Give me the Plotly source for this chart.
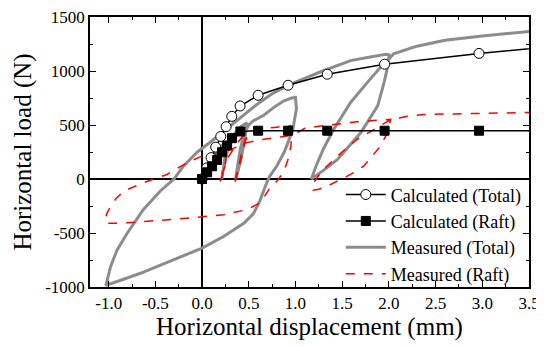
import plotly.graph_objects as go

# ---------------- data ----------------
calc_total_x = [0.0, 0.05, 0.096, 0.146, 0.2, 0.257, 0.318, 0.407, 0.6, 0.921, 1.34, 1.954, 2.965, 4.0]
calc_total_y = [0, 102, 198, 295, 394, 484, 580, 676, 775, 868, 970, 1063, 1163, 1245]

calc_raft_x = [0.0, 0.054, 0.107, 0.161, 0.214, 0.268, 0.321, 0.41, 0.6, 0.921, 1.34, 1.954, 2.965, 4.0]
calc_raft_y = [0, 62, 118, 177, 248, 310, 378, 440, 447, 447, 447, 447, 447, 447]

meas_total_x = [0.0, 0.05, 0.1, 0.15, 0.2, 0.26, 0.25, 0.23, 0.21,
                0.22, 0.27, 0.35, 0.42, 0.48, 0.46, 0.42, 0.38, 0.36,
                0.38, 0.41, 0.45, 0.5, 0.55, 0.66, 0.78, 0.875, 0.96, 1.0,
                1.01, 0.97, 0.88, 0.8, 0.72, 0.68, 0.62, 0.55, 0.45, 0.23, 0.0, -0.3, -0.66, -0.84, -0.95, -1.03,
                -0.98, -0.91, -0.8, -0.63, -0.45, -0.3, -0.2, -0.05, 0.1, 0.23, 0.41, 0.59, 0.75, 0.95, 1.27, 1.59, 1.8, 1.97, 2.0,
                1.99, 1.95, 1.88, 1.7, 1.45, 1.3, 1.17,
                1.22, 1.3, 1.41, 1.59, 1.77, 1.91, 2.0, 2.05, 2.3, 2.6, 3.0, 3.3, 3.5, 3.6]
meas_total_y = [0, 90, 170, 240, 300, 340, 230, 110, 0,
                60, 250, 420, 490, 520, 380, 200, 60, 0,
                120, 280, 420, 500, 540, 590, 670, 724, 750, 755,
                650, 450, 250, 120, 20, -60, -200, -320, -408, -532, -640, -749, -873, -928, -960, -985,
                -811, -656, -500, -284, -113, 0, 119, 250, 350, 440, 569, 693, 790, 879, 993, 1096, 1130, 1155, 1150,
                1050, 900, 677, 430, 181, 80, 0,
                120, 280, 460, 709, 895, 1034, 1110, 1160, 1230, 1285, 1325, 1350, 1365, 1375]

meas_raft_x = [0.0, 0.08, 0.15, 0.22, 0.26, 0.25, 0.22, 0.19,
               0.22, 0.28, 0.35, 0.42, 0.47, 0.45, 0.41, 0.37, 0.34,
               0.37, 0.41, 0.45, 0.5, 0.6, 0.8, 0.95,
               0.96, 0.95, 0.92, 0.87, 0.8, 0.72, 0.66, 0.6, 0.48, 0.23, -0.125, -0.48, -0.84, -1.0, -1.04,
               -1.02, -0.98, -0.92, -0.84, -0.63, -0.375, -0.3, -0.16, 0.0, 0.23, 0.48, 0.66, 0.91, 1.0, 1.1, 1.27, 1.66, 1.9, 2.02,
               1.98, 1.91, 1.8, 1.73, 1.59, 1.375, 1.25, 1.19, 1.17,
               1.23, 1.3, 1.41, 1.55, 1.66, 1.8, 1.91, 2.02, 2.2, 2.375, 2.7, 3.09, 3.5, 3.6]
meas_raft_y = [0, 70, 140, 200, 230, 150, 40, -30,
               60, 200, 300, 380, 430, 300, 150, 20, -60,
               50, 200, 330, 420, 460, 480, 495,
               420, 300, 180, 60, -20, -90, -170, -230, -284, -330, -361, -386, -408, -410, -392,
               -320, -253, -180, -113, -35, 42, 82, 151, 212, 244, 337, 367, 398, 420, 470, 491, 530, 545, 553,
               420, 305, 190, 119, 42, -51, -95, -104, -70,
               11, 90, 181, 290, 367, 440, 491, 550, 580, 598, 603, 606, 615, 617]

x_tick_vals = [-1.0, -0.5, 0.0, 0.5, 1.0, 1.5, 2.0, 2.5, 3.0, 3.5]
x_tick_text = ["-1.0", "-0.5", "0.0", "0.5", "1.0", "1.5", "2.0", "2.5", "3.0", "3.5"]
y_tick_vals = [-1000, -500, 0, 500, 1000, 1500]
y_tick_text = ["-1000", "-500", "0", "500", "1000", "1500"]

FONT = "Liberation Serif"

fig = go.Figure()
fig.add_trace(go.Scatter(
    x=meas_total_x, y=meas_total_y, mode="lines", name="Measured (Total)",
    line=dict(color="#8c8c8c", width=3), showlegend=False))
fig.add_trace(go.Scatter(
    x=meas_raft_x, y=meas_raft_y, mode="lines", name="Measured (Raft)",
    line=dict(color="#ff0000", width=1.5, dash="dash"), showlegend=False))
fig.add_trace(go.Scatter(
    x=calc_total_x, y=calc_total_y, mode="lines+markers", name="Calculated (Total)",
    line=dict(color="black", width=1.5),
    marker=dict(symbol="circle", size=10, color="white", line=dict(color="black", width=1))))
fig.add_trace(go.Scatter(
    x=calc_raft_x, y=calc_raft_y, mode="lines+markers", name="Calculated (Raft)",
    line=dict(color="black", width=1.5),
    marker=dict(symbol="square", size=9, color="black", line=dict(color="black", width=1))))
# legend-only entries for measured (to keep legend order)
fig.add_trace(go.Scatter(
    x=[None], y=[None], mode="lines", name="Measured (Total)",
    line=dict(color="#8c8c8c", width=3)))
fig.add_trace(go.Scatter(
    x=[None], y=[None], mode="lines", name="Measured (Raft)",
    line=dict(color="#ff0000", width=1.5, dash="dash")))

axis_common = dict(
    showgrid=False, showline=True, linecolor="black", linewidth=1.5, mirror="allticks",
    ticks="inside", ticklen=6, tickwidth=1, tickcolor="black",
    zeroline=True, zerolinecolor="black", zerolinewidth=1.5,
    tickfont=dict(family=FONT, size=17, color="black"),
    automargin=False, ticklabeloverflow="allow",
)

fig.update_xaxes(
    range=[-1.2, 3.5], tickmode="array", tickvals=x_tick_vals, ticktext=x_tick_text,
    minor=dict(ticks="inside", dtick=0.25, tick0=0, ticklen=3, tickcolor="black"),
    title=dict(text="Horizontal displacement (mm)", font=dict(family=FONT, size=25, color="black"), standoff=4),
    **axis_common)
fig.update_yaxes(
    range=[-1000, 1500], tickmode="array", tickvals=y_tick_vals, ticktext=y_tick_text,
    minor=dict(ticks="inside", dtick=250, tick0=0, ticklen=3, tickcolor="black"),
    title=dict(text="Horizontal load (N)", font=dict(family=FONT, size=25, color="black"), standoff=6),
    **axis_common)

fig.update_layout(
    width=536, height=339,
    margin=dict(l=82, r=15, t=9, b=60),
    plot_bgcolor="white", paper_bgcolor="white",
    font=dict(family=FONT, color="black"),
    legend=dict(x=0.995, y=0.195, xanchor="right", yanchor="middle",
                bgcolor="rgba(0,0,0,0)", font=dict(family=FONT, size=18, color="black"),
                tracegroupgap=0, itemwidth=40),
)

fig.write_html("out.html")
